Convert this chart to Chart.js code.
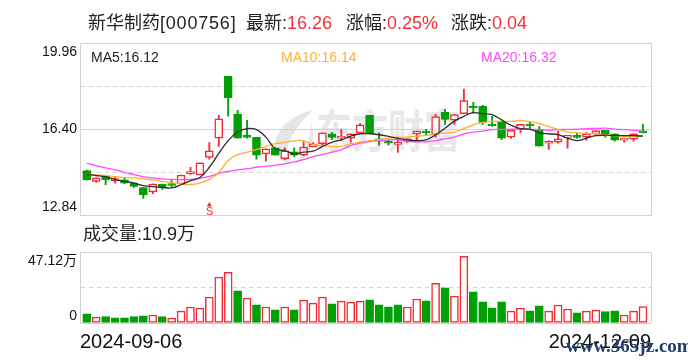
<!DOCTYPE html>
<html>

<head>
    <meta charset="UTF-8">
    <title>新华制药 K线</title>
    <script src="https://cdn.jsdelivr.net/npm/chart.js@4/dist/chart.umd.min.js"></script>
    <style>
        html, body { margin: 0; padding: 0; background: #fff; }
        body { width: 688px; height: 360px; overflow: hidden; position: relative;
            font-family: "Liberation Sans", "Noto Sans CJK SC", sans-serif; color: #222; }
        .t { position: absolute; white-space: nowrap; line-height: 1; }
        .head { font-size: 18px; top: 14px; }
        .ma { font-size: 14px; top: 50px; }
        .red { color: #f5303a; }
        canvas { position: absolute; left: 0; }
        #priceChart { top: 0; }
        #volumeChart { top: 230px; }
    </style>
</head>

<body>
    <!-- watermark sits under the transparent canvases -->
    <svg class="t" style="left:273px;top:108px" width="42" height="58">
        <path d="M40 2 C20 6 4 20 2 36 C2 46 8 54 16 56 C10 44 14 28 40 2 Z" fill="#e6e6ea"/>
        <path d="M38 14 C38 34 30 50 20 56 C32 54 40 42 40 28 C40 22 39 18 38 14 Z" fill="#e6e6ea"/>
    </svg>
    <div class="t" style="left:316px;top:110px;font-size:36px;font-weight:bold;color:#e8e8ec;transform:scaleY(1.25);transform-origin:top left">东方财富</div>

    <canvas id="priceChart" width="688" height="237"></canvas>
    <canvas id="volumeChart" width="688" height="130"></canvas>

    <div class="t head" style="left:88px">新华制药<span style="letter-spacing:0.8px">[000756]</span></div>
    <div class="t head" style="left:246px">最新:<span class="red">16.26</span></div>
    <div class="t head" style="left:346px">涨幅:<span class="red">0.25%</span></div>
    <div class="t head" style="left:451px">涨跌:<span class="red">0.04</span></div>

    <div class="t ma" style="left:91px">MA5:16.12</div>
    <div class="t ma" style="left:281px;color:#ffb030">MA10:16.14</div>
    <div class="t ma" style="left:481px;color:#ff48ff">MA20:16.32</div>

    <div class="t" style="left:206px;top:206px;font-size:11px;color:#f5303a">S</div>
    <div class="t head" style="left:83px;top:225px">成交量:10.9万</div>
    <div class="t" style="left:566px;top:336px;font-family:'Liberation Serif',serif;font-size:19px;font-weight:bold;color:#1d3d6e">www.365jz.com</div>

    <script>
        const RED = "#f22a33";
        const GREEN = "#009f06";

        const opens = [14.70, 14.26, 14.48, 14.29, 14.32, 14.20, 14.00, 13.82, 14.15, 14.12,
            14.15, 14.58, 14.52, 15.25, 16.04, 18.59, 17.02, 16.15, 16.07, 15.39,
            15.64, 15.19, 15.48, 15.34, 15.68, 15.81, 16.22, 16.04, 16.04, 16.26,
            16.98, 16.01, 15.87, 15.78, 15.92, 16.21, 16.29, 16.19, 17.10, 16.78,
            17.05, 17.35, 17.35, 16.58, 16.70, 16.08, 16.41, 16.61, 16.41, 15.83,
            15.87, 16.07, 16.11, 16.08, 16.21, 16.36, 16.22, 15.96, 16.00, 16.29];
        const closes = [14.33, 14.40, 14.33, 14.31, 14.18, 14.05, 13.71, 14.15, 14.01, 14.09,
            14.52, 14.62, 15.02, 15.52, 16.84, 17.70, 16.04, 16.07, 15.34, 15.60,
            15.34, 15.52, 15.34, 15.67, 15.81, 16.26, 16.07, 16.10, 16.22, 16.59,
            16.22, 15.92, 15.83, 15.82, 16.01, 16.33, 16.25, 16.93, 16.81, 17.01,
            17.59, 17.28, 16.69, 16.54, 16.04, 16.36, 16.61, 16.54, 15.71, 15.87,
            16.01, 16.14, 16.07, 16.22, 16.35, 16.22, 15.96, 15.98, 16.22, 16.26];
        const highs = [14.72, 14.40, 14.49, 14.42, 14.42, 14.20, 14.00, 14.16, 14.15, 14.29,
            14.52, 14.84, 15.02, 15.86, 16.98, 18.59, 17.19, 16.77, 16.07, 15.60,
            15.64, 15.64, 15.64, 15.90, 15.86, 16.26, 16.28, 16.39, 16.22, 16.65,
            16.98, 16.26, 15.97, 16.06, 16.01, 16.33, 16.40, 17.02, 17.23, 17.01,
            18.06, 17.52, 17.39, 16.94, 16.70, 16.36, 16.61, 16.69, 16.52, 15.94,
            16.33, 16.14, 16.26, 16.28, 16.35, 16.36, 16.22, 16.04, 16.22, 16.61];
        const lows = [14.31, 14.22, 14.12, 14.18, 14.16, 14.01, 13.56, 13.75, 13.93, 14.04,
            14.15, 14.54, 14.52, 15.17, 15.70, 16.94, 16.04, 16.04, 15.17, 15.09,
            15.34, 15.15, 15.28, 15.31, 15.68, 15.75, 15.98, 15.94, 15.86, 16.26,
            16.22, 15.75, 15.75, 15.45, 15.86, 15.97, 16.15, 16.08, 16.61, 16.61,
            17.05, 17.07, 16.61, 16.52, 15.98, 16.03, 16.25, 16.45, 15.71, 15.58,
            15.83, 15.63, 16.04, 15.96, 16.14, 16.08, 15.92, 15.87, 15.92, 16.25];

        const ma5 = [14.54, 14.50, 14.45, 14.33, 14.26, 14.19, 14.08, 14.04, 14.01, 13.99,
            14.12, 14.29, 14.42, 14.84, 15.41, 15.94, 16.29, 16.43, 16.39, 16.08,
            15.60, 15.53, 15.39, 15.46, 15.50, 15.70, 15.87, 15.97, 16.12, 16.22,
            16.22, 16.18, 16.11, 16.03, 15.97, 15.94, 15.97, 16.18, 16.45, 16.74,
            16.94, 17.09, 17.05, 17.01, 16.79, 16.57, 16.43, 16.41, 16.26, 16.22,
            16.18, 16.04, 15.94, 16.04, 16.14, 16.16, 16.15, 16.14, 16.14, 16.12];
        const ma10 = [14.55, 14.52, 14.50, 14.45, 14.42, 14.40, 14.36, 14.32, 14.26, 14.21,
            14.15, 14.13, 14.19, 14.34, 14.62, 15.12, 15.36, 15.46, 15.57, 15.70,
            15.81, 15.87, 15.93, 15.93, 15.78, 15.72, 15.70, 15.70, 15.81, 15.87,
            15.94, 15.98, 16.04, 16.08, 16.08, 16.12, 16.15, 16.21, 16.25, 16.29,
            16.43, 16.59, 16.68, 16.73, 16.73, 16.73, 16.76, 16.72, 16.64, 16.52,
            16.40, 16.29, 16.26, 16.23, 16.22, 16.18, 16.14, 16.11, 16.10, 16.14];
        const ma20 = [15.00, 14.91, 14.81, 14.73, 14.63, 14.54, 14.45, 14.40, 14.36, 14.34,
            14.33, 14.34, 14.38, 14.46, 14.59, 14.67, 14.73, 14.78, 14.84, 14.88,
            14.92, 14.98, 15.06, 15.15, 15.28, 15.36, 15.46, 15.56, 15.74, 15.83,
            15.90, 15.94, 15.97, 15.97, 15.91, 15.89, 15.89, 15.94, 16.01, 16.08,
            16.22, 16.29, 16.33, 16.39, 16.40, 16.41, 16.41, 16.40, 16.39, 16.37,
            16.39, 16.40, 16.41, 16.43, 16.44, 16.45, 16.41, 16.39, 16.36, 16.32];

        const volumes = [6.1, 4.0, 4.2, 3.5, 3.5, 4.2, 4.8, 5.3, 4.2, 3.3,
            7.9, 10.6, 9.9, 17.2, 30.4, 33.7, 21.4, 16.5, 12.1, 10.6,
            8.8, 10.6, 8.8, 15.2, 13.2, 17.2, 12.8, 14.5, 13.9, 14.5,
            15.4, 12.1, 10.8, 12.1, 10.6, 15.9, 14.7, 26.4, 23.3, 17.8,
            44.3, 20.7, 14.1, 10.1, 14.1, 7.9, 9.9, 8.1, 11.4, 7.9,
            11.9, 9.3, 6.8, 7.9, 8.6, 7.5, 8.1, 5.3, 7.9, 10.9];
        const volumeUp = [0, 1, 0, 0, 0, 0, 0, 1, 0, 1,
            1, 1, 1, 1, 1, 1, 0, 1, 0, 1,
            0, 1, 0, 1, 1, 1, 0, 1, 1, 1,
            0, 0, 0, 0, 1, 1, 0, 1, 0, 1,
            1, 0, 0, 0, 0, 1, 1, 0, 0, 1,
            1, 1, 0, 1, 1, 0, 0, 1, 1, 1];

        const priceTicks = [12.84, 14.62, 16.40, 18.18, 19.96];
        const volumeTicks = [0, 23.56, 47.12];
        const dates = ["2024-09-06", "2024-12-09"];
        const signalIndex = 13;
        const signalPrice = 13.29;

        const xMin = -0.72;
        const xMax = 59.85;
        const border = "#d2d2d6";
        const tickFamily = '"Liberation Sans", "Noto Sans CJK SC", sans-serif';
        const tickFont = { family: tickFamily, size: 14, lineHeight: 1.3 };

        function points(arr) {
            return arr.map((v, i) => ({ x: i, y: v }));
        }

        function lineSet(values, color) {
            return { type: "line", data: points(values), borderColor: color, borderWidth: 1.3, pointRadius: 0, tension: 0.4, order: 0 };
        }

        // x axis is linear so the candles can sit off the plot edges like the original
        function xAxis(showDates) {
            return {
                type: "linear", min: xMin, max: xMax, offset: false,
                grid: { offset: false, color: border, lineWidth: 1, drawTicks: false },
                border: { display: false },
                afterBuildTicks: s => { s.ticks = [{ value: xMin }, { value: xMax }]; },
                afterFit: s => { s.height = showDates ? 37 : 0; },
                ticks: {
                    display: showDates, autoSkip: false, maxRotation: 0, align: "inner", padding: 7,
                    color: "#111", font: { family: tickFamily, size: 20 },
                    callback: (v, i) => dates[i]
                }
            };
        }

        // top and bottom labels get a blank line so they sit inside the plot
        function yAxis(tickValues, labelFn, min, max, dashed, font) {
            return {
                min: min, max: max,
                grid: { color: border, lineWidth: 1, drawTicks: false },
                border: { color: border, dash: c => (dashed.includes(c.index) ? [4, 4] : []) },
                afterBuildTicks: s => { s.ticks = tickValues.map(v => ({ value: v })); },
                afterFit: s => { s.width = 80; },
                ticks: { autoSkip: false, padding: 3, color: "#111", font: font, callback: labelFn }
            };
        }

        function priceLabel(v, i) {
            if (i === 0) return [v.toFixed(2), ""];
            if (i === 4) return ["", v.toFixed(2)];
            return i === 2 ? v.toFixed(2) : "";
        }

        function volumeLabel(v, i) {
            if (i === 0) return ["0", ""];
            if (i === 2) return ["", v.toFixed(2) + "万"];
            return "";
        }

        const up = closes.map((c, i) => c >= opens[i]);

        new Chart(document.getElementById("priceChart"), {
            type: "bar",
            data: {
                datasets: [
                    lineSet(ma5, "#2e2e2e"),
                    lineSet(ma10, "#ffb030"),
                    lineSet(ma20, "#ff48ff"),
                    {
                        type: "line", showLine: false, data: [{ x: signalIndex, y: signalPrice }],
                        pointStyle: "triangle", pointRadius: 3, pointBackgroundColor: RED, pointBorderWidth: 0, order: 0
                    },
                    {
                        data: opens.map((o, i) => ({ x: i, y: [o, closes[i]] })),
                        backgroundColor: up.map(u => (u ? "#fff" : GREEN)),
                        borderColor: up.map(u => (u ? RED : GREEN)),
                        borderWidth: 1.5, barThickness: 8, minBarLength: 2, borderSkipped: false, grouped: false, order: 1
                    },
                    {
                        data: lows.map((l, i) => ({ x: i, y: [l, highs[i]] })),
                        backgroundColor: up.map(u => (u ? RED : GREEN)),
                        borderWidth: 0, barThickness: 1.2, grouped: false, order: 2
                    }
                ]
            },
            options: {
                responsive: false,
                animation: false,
                layout: { padding: { top: 43, right: 37, bottom: 7, left: 0 } },
                plugins: { legend: { display: false }, tooltip: { enabled: false } },
                scales: {
                    x: xAxis(false),
                    y: yAxis(priceTicks, priceLabel, priceTicks[0], priceTicks[4], [1, 3], tickFont)
                }
            }
        });

        new Chart(document.getElementById("volumeChart"), {
            type: "bar",
            data: {
                datasets: [{
                    data: points(volumes),
                    backgroundColor: volumeUp.map(u => (u ? "#fff" : GREEN)),
                    borderColor: volumeUp.map(u => (u ? RED : GREEN)),
                    borderWidth: 1.5, barThickness: 8, borderSkipped: false
                }]
            },
            options: {
                responsive: false,
                animation: false,
                layout: { padding: { top: 22, right: 37, bottom: 0, left: 0 } },
                plugins: { legend: { display: false }, tooltip: { enabled: false } },
                scales: {
                    x: xAxis(true),
                    y: yAxis(volumeTicks, volumeLabel, 0, volumeTicks[2], [1],
                        c => (c.index === 0 ? { family: tickFamily, size: 14, lineHeight: 1 } : tickFont))
                }
            }
        });
    </script>
</body>

</html>
